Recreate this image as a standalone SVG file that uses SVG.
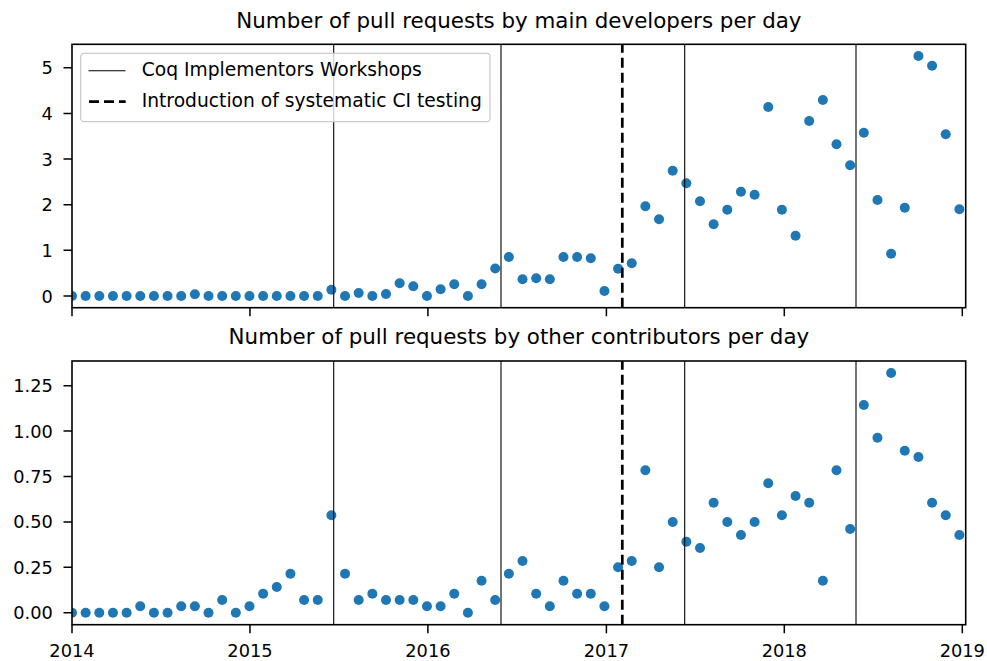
<svg xmlns="http://www.w3.org/2000/svg" width="987" height="661" viewBox="0 0 987 661">
<style>
text{font-family:"DejaVu Sans","Liberation Sans",sans-serif;fill:#000}
.title{font-size:21.4px;text-anchor:middle}
.ytl{font-size:17.8px;text-anchor:end}
.xtl{font-size:17.8px;text-anchor:middle}
.leg{font-size:18.7px}
.pt{fill:#1f77b4}
.spine{fill:none;stroke:#000;stroke-width:1.6}
.tick{stroke:#000;stroke-width:1.5}
.ws{stroke:#000;stroke-width:1.1}
.ci{stroke:#000;stroke-width:2.7;stroke-dasharray:10 5}
</style>
<defs>
<clipPath id="clipTop"><rect x="72" y="44.3" width="893.7" height="263.4"/></clipPath>
<clipPath id="clipBot"><rect x="72" y="361" width="893.7" height="263.7"/></clipPath>
</defs>
<rect width="987" height="661" fill="#fff"/>

<g id="top-panel">
<text class="title" x="518.9" y="28.3">Number of pull requests by main developers per day</text>
<g id="top-points" clip-path="url(#clipTop)">
<circle class="pt" cx="72" cy="296" r="5"/>
<circle class="pt" cx="85.65" cy="296" r="5"/>
<circle class="pt" cx="99.3" cy="296" r="5"/>
<circle class="pt" cx="112.96" cy="296" r="5"/>
<circle class="pt" cx="126.61" cy="296" r="5"/>
<circle class="pt" cx="140.26" cy="296" r="5"/>
<circle class="pt" cx="153.91" cy="296" r="5"/>
<circle class="pt" cx="167.56" cy="296" r="5"/>
<circle class="pt" cx="181.22" cy="296" r="5"/>
<circle class="pt" cx="194.87" cy="294.3" r="5"/>
<circle class="pt" cx="208.52" cy="296" r="5"/>
<circle class="pt" cx="222.17" cy="296" r="5"/>
<circle class="pt" cx="235.82" cy="296" r="5"/>
<circle class="pt" cx="249.48" cy="296" r="5"/>
<circle class="pt" cx="263.13" cy="296" r="5"/>
<circle class="pt" cx="276.78" cy="296" r="5"/>
<circle class="pt" cx="290.43" cy="296" r="5"/>
<circle class="pt" cx="304.08" cy="296" r="5"/>
<circle class="pt" cx="317.74" cy="296" r="5"/>
<circle class="pt" cx="331.39" cy="289.7" r="5"/>
<circle class="pt" cx="345.04" cy="296" r="5"/>
<circle class="pt" cx="358.69" cy="293" r="5"/>
<circle class="pt" cx="372.34" cy="296" r="5"/>
<circle class="pt" cx="386" cy="294" r="5"/>
<circle class="pt" cx="399.65" cy="283.3" r="5"/>
<circle class="pt" cx="413.3" cy="286.3" r="5"/>
<circle class="pt" cx="426.95" cy="296" r="5"/>
<circle class="pt" cx="440.6" cy="289.3" r="5"/>
<circle class="pt" cx="454.26" cy="284.3" r="5"/>
<circle class="pt" cx="467.91" cy="296" r="5"/>
<circle class="pt" cx="481.56" cy="284.3" r="5"/>
<circle class="pt" cx="495.21" cy="268.5" r="5"/>
<circle class="pt" cx="508.86" cy="257" r="5"/>
<circle class="pt" cx="522.52" cy="279.3" r="5"/>
<circle class="pt" cx="536.17" cy="278.3" r="5"/>
<circle class="pt" cx="549.82" cy="279.3" r="5"/>
<circle class="pt" cx="563.47" cy="257" r="5"/>
<circle class="pt" cx="577.12" cy="257" r="5"/>
<circle class="pt" cx="590.78" cy="258.3" r="5"/>
<circle class="pt" cx="604.43" cy="291" r="5"/>
<circle class="pt" cx="618.08" cy="268.7" r="5"/>
<circle class="pt" cx="631.73" cy="263.3" r="5"/>
<circle class="pt" cx="645.38" cy="206.3" r="5"/>
<circle class="pt" cx="659.04" cy="219.3" r="5"/>
<circle class="pt" cx="672.69" cy="170.7" r="5"/>
<circle class="pt" cx="686.34" cy="183.3" r="5"/>
<circle class="pt" cx="699.99" cy="201.3" r="5"/>
<circle class="pt" cx="713.64" cy="224.3" r="5"/>
<circle class="pt" cx="727.3" cy="209.7" r="5"/>
<circle class="pt" cx="740.95" cy="191.7" r="5"/>
<circle class="pt" cx="754.6" cy="194.7" r="5"/>
<circle class="pt" cx="768.25" cy="107" r="5"/>
<circle class="pt" cx="781.9" cy="209.7" r="5"/>
<circle class="pt" cx="795.56" cy="235.7" r="5"/>
<circle class="pt" cx="809.21" cy="121" r="5"/>
<circle class="pt" cx="822.86" cy="100" r="5"/>
<circle class="pt" cx="836.51" cy="144.3" r="5"/>
<circle class="pt" cx="850.16" cy="165.3" r="5"/>
<circle class="pt" cx="863.82" cy="132.7" r="5"/>
<circle class="pt" cx="877.47" cy="200" r="5"/>
<circle class="pt" cx="891.12" cy="253.7" r="5"/>
<circle class="pt" cx="904.77" cy="207.7" r="5"/>
<circle class="pt" cx="918.42" cy="56" r="5"/>
<circle class="pt" cx="932.08" cy="65.7" r="5"/>
<circle class="pt" cx="945.73" cy="134.3" r="5"/>
<circle class="pt" cx="959.38" cy="209.3" r="5"/>
</g>
<g id="top-vlines">
<line class="ws" x1="333.7" y1="307.7" x2="333.7" y2="44.3"/>
<line class="ws" x1="501" y1="307.7" x2="501" y2="44.3"/>
<line class="ws" x1="684.7" y1="307.7" x2="684.7" y2="44.3"/>
<line class="ws" x1="856" y1="307.7" x2="856" y2="44.3"/>
<line class="ci" x1="622.3" y1="307.7" x2="622.3" y2="44.3"/>
</g>
<g id="top-axes">
<rect class="spine" x="72" y="44.3" width="893.7" height="263.4"/>
<path class="tick" d="M72 307.7v8.5M249.96 307.7v8.5M427.9 307.7v8.5M606.4 307.7v8.5M784.3 307.7v8.5M962.3 307.7v8.5"/>
<path class="tick" d="M63.5 296h8.5M63.5 250.34h8.5M63.5 204.7h8.5M63.5 159h8.5M63.5 113.4h8.5M63.5 67.7h8.5"/>
<text class="ytl" x="52.8" y="302.5">0</text>
<text class="ytl" x="52.8" y="256.9">1</text>
<text class="ytl" x="52.8" y="211.2">2</text>
<text class="ytl" x="52.8" y="165.5">3</text>
<text class="ytl" x="52.8" y="119.9">4</text>
<text class="ytl" x="52.8" y="74.2">5</text>
</g>
<g id="legend">
<rect x="80.7" y="53.3" width="409.3" height="68.4" rx="3.5" fill="#fff" fill-opacity="0.8" stroke="#cccccc" stroke-width="1.3"/>
<line x1="88.5" y1="70.7" x2="125.5" y2="70.7" stroke="#000" stroke-width="1.1"/>
<text class="leg" x="141.7" y="76.2">Coq Implementors Workshops</text>
<line x1="89" y1="101.7" x2="125.7" y2="101.7" stroke="#000" stroke-width="2.7" stroke-dasharray="10 5"/>
<text class="leg" x="141.7" y="107.3">Introduction of systematic CI testing</text>
</g>
</g>

<g id="bottom-panel">
<text class="title" x="518.9" y="344.3">Number of pull requests by other contributors per day</text>
<g id="bottom-points" clip-path="url(#clipBot)">
<circle class="pt" cx="72" cy="612.7" r="5"/>
<circle class="pt" cx="85.65" cy="612.7" r="5"/>
<circle class="pt" cx="99.3" cy="612.7" r="5"/>
<circle class="pt" cx="112.96" cy="612.7" r="5"/>
<circle class="pt" cx="126.61" cy="612.7" r="5"/>
<circle class="pt" cx="140.26" cy="606.3" r="5"/>
<circle class="pt" cx="153.91" cy="612.7" r="5"/>
<circle class="pt" cx="167.56" cy="612.7" r="5"/>
<circle class="pt" cx="181.22" cy="606.3" r="5"/>
<circle class="pt" cx="194.87" cy="606.3" r="5"/>
<circle class="pt" cx="208.52" cy="612.7" r="5"/>
<circle class="pt" cx="222.17" cy="600" r="5"/>
<circle class="pt" cx="235.82" cy="612.7" r="5"/>
<circle class="pt" cx="249.48" cy="606.3" r="5"/>
<circle class="pt" cx="263.13" cy="593.7" r="5"/>
<circle class="pt" cx="276.78" cy="587" r="5"/>
<circle class="pt" cx="290.43" cy="573.7" r="5"/>
<circle class="pt" cx="304.08" cy="600" r="5"/>
<circle class="pt" cx="317.74" cy="600" r="5"/>
<circle class="pt" cx="331.39" cy="515.3" r="5"/>
<circle class="pt" cx="345.04" cy="573.7" r="5"/>
<circle class="pt" cx="358.69" cy="600" r="5"/>
<circle class="pt" cx="372.34" cy="593.7" r="5"/>
<circle class="pt" cx="386" cy="600" r="5"/>
<circle class="pt" cx="399.65" cy="600" r="5"/>
<circle class="pt" cx="413.3" cy="600" r="5"/>
<circle class="pt" cx="426.95" cy="606.3" r="5"/>
<circle class="pt" cx="440.6" cy="606.3" r="5"/>
<circle class="pt" cx="454.26" cy="593.7" r="5"/>
<circle class="pt" cx="467.91" cy="612.7" r="5"/>
<circle class="pt" cx="481.56" cy="580.7" r="5"/>
<circle class="pt" cx="495.21" cy="600" r="5"/>
<circle class="pt" cx="508.86" cy="573.7" r="5"/>
<circle class="pt" cx="522.52" cy="561" r="5"/>
<circle class="pt" cx="536.17" cy="593.7" r="5"/>
<circle class="pt" cx="549.82" cy="606.3" r="5"/>
<circle class="pt" cx="563.47" cy="580.7" r="5"/>
<circle class="pt" cx="577.12" cy="593.7" r="5"/>
<circle class="pt" cx="590.78" cy="593.7" r="5"/>
<circle class="pt" cx="604.43" cy="606.3" r="5"/>
<circle class="pt" cx="618.08" cy="567.3" r="5"/>
<circle class="pt" cx="631.73" cy="561" r="5"/>
<circle class="pt" cx="645.38" cy="470.3" r="5"/>
<circle class="pt" cx="659.04" cy="567.3" r="5"/>
<circle class="pt" cx="672.69" cy="522" r="5"/>
<circle class="pt" cx="686.34" cy="541.7" r="5"/>
<circle class="pt" cx="699.99" cy="548" r="5"/>
<circle class="pt" cx="713.64" cy="502.7" r="5"/>
<circle class="pt" cx="727.3" cy="522" r="5"/>
<circle class="pt" cx="740.95" cy="535" r="5"/>
<circle class="pt" cx="754.6" cy="522" r="5"/>
<circle class="pt" cx="768.25" cy="483.3" r="5"/>
<circle class="pt" cx="781.9" cy="515.3" r="5"/>
<circle class="pt" cx="795.56" cy="496" r="5"/>
<circle class="pt" cx="809.21" cy="502.7" r="5"/>
<circle class="pt" cx="822.86" cy="580.7" r="5"/>
<circle class="pt" cx="836.51" cy="470.3" r="5"/>
<circle class="pt" cx="850.16" cy="529" r="5"/>
<circle class="pt" cx="863.82" cy="405" r="5"/>
<circle class="pt" cx="877.47" cy="437.7" r="5"/>
<circle class="pt" cx="891.12" cy="373" r="5"/>
<circle class="pt" cx="904.77" cy="450.7" r="5"/>
<circle class="pt" cx="918.42" cy="457" r="5"/>
<circle class="pt" cx="932.08" cy="502.7" r="5"/>
<circle class="pt" cx="945.73" cy="515.3" r="5"/>
<circle class="pt" cx="959.38" cy="535" r="5"/>
</g>
<g id="bottom-vlines">
<line class="ws" x1="333.7" y1="624.7" x2="333.7" y2="361"/>
<line class="ws" x1="501" y1="624.7" x2="501" y2="361"/>
<line class="ws" x1="684.7" y1="624.7" x2="684.7" y2="361"/>
<line class="ws" x1="856" y1="624.7" x2="856" y2="361"/>
<line class="ci" x1="622.3" y1="624.7" x2="622.3" y2="361"/>
</g>
<g id="bottom-axes">
<rect class="spine" x="72" y="361" width="893.7" height="263.7"/>
<path class="tick" d="M72 624.7v8.5M249.96 624.7v8.5M427.9 624.7v8.5M606.4 624.7v8.5M784.3 624.7v8.5M962.3 624.7v8.5"/>
<path class="tick" d="M63.5 612.7h8.5M63.5 567.3h8.5M63.5 521.9h8.5M63.5 476.5h8.5M63.5 431.1h8.5M63.5 385.7h8.5"/>
<text class="ytl" x="52.8" y="619.2">0.00</text>
<text class="ytl" x="52.8" y="573.8">0.25</text>
<text class="ytl" x="52.8" y="528.4">0.50</text>
<text class="ytl" x="52.8" y="483">0.75</text>
<text class="ytl" x="52.8" y="437.6">1.00</text>
<text class="ytl" x="52.8" y="392.2">1.25</text>
<text class="xtl" x="72" y="657">2014</text>
<text class="xtl" x="249.96" y="657">2015</text>
<text class="xtl" x="427.9" y="657">2016</text>
<text class="xtl" x="606.4" y="657">2017</text>
<text class="xtl" x="784.3" y="657">2018</text>
<text class="xtl" x="962.3" y="657">2019</text>
</g>
</g>
</svg>
